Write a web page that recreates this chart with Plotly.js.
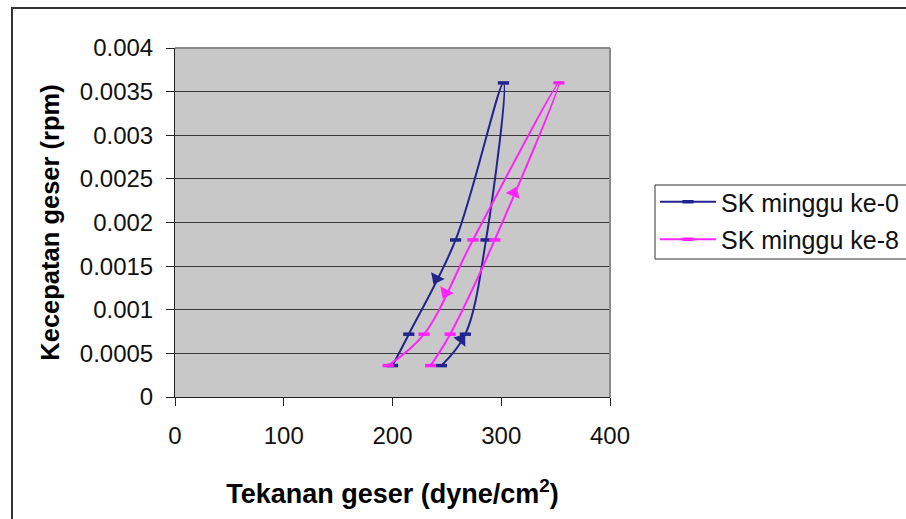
<!DOCTYPE html>
<html>
<head>
<meta charset="utf-8">
<script src="https://cdn.plot.ly/plotly-3.0.1.min.js"></script>
<style>
html,body{margin:0;padding:0;background:#fff;overflow:hidden;}
#wrap{position:relative;width:906px;height:519px;}
#chart{position:absolute;left:0;top:0;width:906px;height:519px;}
#frame{position:absolute;left:11px;top:7px;width:1000px;height:1000px;border:2px solid #333;box-sizing:border-box;pointer-events:none;}
</style>
</head>
<body>
<div id="wrap"><div id="chart"></div><div id="frame"></div></div>
<script>
// Data (order follows the loop: up the right branch, down the left branch)
const speed = [0.00036, 0.00072, 0.0018, 0.0036, 0.0018, 0.00072, 0.00036];
const stressWeek0 = [245, 267, 286, 302, 258, 215, 200];
const stressWeek8 = [235, 253, 294, 353, 274, 229, 196];
const seriesNames = ["SK minggu ke-0", "SK minggu ke-8"];
const xTicks = [0, 100, 200, 300, 400];
const yTicks = [0, 0.0005, 0.001, 0.0015, 0.002, 0.0025, 0.003, 0.0035, 0.004];
const yTickText = ["0", "0.0005", "0.001", "0.0015", "0.002", "0.0025", "0.003", "0.0035", "0.004"];
// direction arrows: [segment start index, fraction along segment]
const arrowsWeek0 = [[0, 0.83], [4, 0.41]];
const arrowsWeek8 = [[2, 0.30], [4, 0.56]];

const blue = "#23238E", pink = "#FF22FF";
const font = "Liberation Sans, Arial, sans-serif";
const W = 906, H = 519, M = {l: 175, r: 296, t: 48, b: 122, autoexpand: false};
const xRange = [0, 400], yRange = [0, 0.004];
const plotW = W - M.l - M.r, plotH = H - M.t - M.b;
const pxPerX = plotW / (xRange[1] - xRange[0]);
const pxPerY = plotH / (yRange[1] - yRange[0]);
// pixel -> paper helpers (for legend box placement)
const px2paperX = p => (p - M.l) / plotW;
const px2paperY = p => (H - M.b - p) / plotH;

function trace(xs, name, color, group) {
  return {
    x: xs, y: speed, name: name, legendgroup: group,
    type: "scatter", mode: "lines+markers",
    line: {color: color, width: 2, shape: "spline", smoothing: 1},
    marker: {symbol: "line-ew", size: 8, color: color, line: {color: color, width: 3.5}}
  };
}

function arrowTrace(xs, specs, color, group) {
  const ax = [], ay = [], ang = [];
  specs.forEach(([i, f]) => {
    const x0 = xs[i], x1 = xs[i + 1], y0 = speed[i], y1 = speed[i + 1];
    ax.push(x0 + (x1 - x0) * f);
    ay.push(y0 + (y1 - y0) * f);
    const vx = (x1 - x0) * pxPerX, vy = -(y1 - y0) * pxPerY;
    ang.push(Math.atan2(vx, -vy) * 180 / Math.PI);
  });
  return {
    x: ax, y: ay, type: "scatter", mode: "markers", showlegend: false, legendgroup: group,
    hoverinfo: "skip",
    marker: {symbol: "triangle-up", size: 13, angle: ang, color: color, line: {width: 0}}
  };
}

const data = [
  trace(stressWeek0, seriesNames[0], blue, "a"),
  trace(stressWeek8, seriesNames[1], pink, "b"),
  arrowTrace(stressWeek0, arrowsWeek0, blue, "a"),
  arrowTrace(stressWeek8, arrowsWeek8, pink, "b")
];

const layout = {
  width: W, height: H,
  margin: M,
  paper_bgcolor: "rgba(0,0,0,0)",
  plot_bgcolor: "#C8C8C8",
  showlegend: true,
  font: {family: font, color: "#111", size: 24},
  xaxis: {
    range: xRange, tickvals: xTicks, ticktext: xTicks.map(String),
    showgrid: false, zeroline: false, automargin: false,
    showline: true, linecolor: "#222", linewidth: 1,
    ticks: "outside", ticklen: 8, tickcolor: "#222", ticklabelstandoff: 9,
    tickfont: {size: 24, family: font, color: "#111"},
    title: {text: "<b>Tekanan geser (dyne/cm<sup>2</sup>)</b>", font: {size: 27, family: font, color: "#000"}, standoff: 36}
  },
  yaxis: {
    range: yRange, tickvals: yTicks, ticktext: yTickText,
    showgrid: true, gridcolor: "#3a3a3a", gridwidth: 1, zeroline: false, automargin: false,
    showline: true, linecolor: "#222", linewidth: 1,
    ticks: "outside", ticklen: 8, tickcolor: "#222", ticklabelstandoff: 8,
    tickfont: {size: 24, family: font, color: "#111"},
    title: {text: "<b>Kecepatan geser (rpm)</b>", font: {size: 25.5, family: font, color: "#000"}, standoff: 12}
  },
  legend: {
    x: px2paperX(655), y: px2paperY(179), xanchor: "left", yanchor: "top",
    bgcolor: "rgba(0,0,0,0)", borderwidth: 0,
    font: {size: 25, family: font, color: "#111"},
    itemwidth: 56,
    traceorder: "grouped", tracegroupgap: 2
  },
  shapes: [
    {type: "rect", xref: "paper", yref: "paper", layer: "below",
     x0: px2paperX(655), x1: px2paperX(912), y0: px2paperY(259), y1: px2paperY(185),
     fillcolor: "#fff", line: {color: "#333", width: 1}},
    {type: "line", xref: "paper", yref: "paper", x0: 0, x1: 1, y0: 1, y1: 1, line: {color: "#8a8a8a", width: 2}},
    {type: "line", xref: "paper", yref: "paper", x0: 1, x1: 1, y0: 0, y1: 1, line: {color: "#8a8a8a", width: 2}}
  ]
};

Plotly.newPlot("chart", data, layout, {displayModeBar: false, staticPlot: true});
</script>
</body>
</html>
